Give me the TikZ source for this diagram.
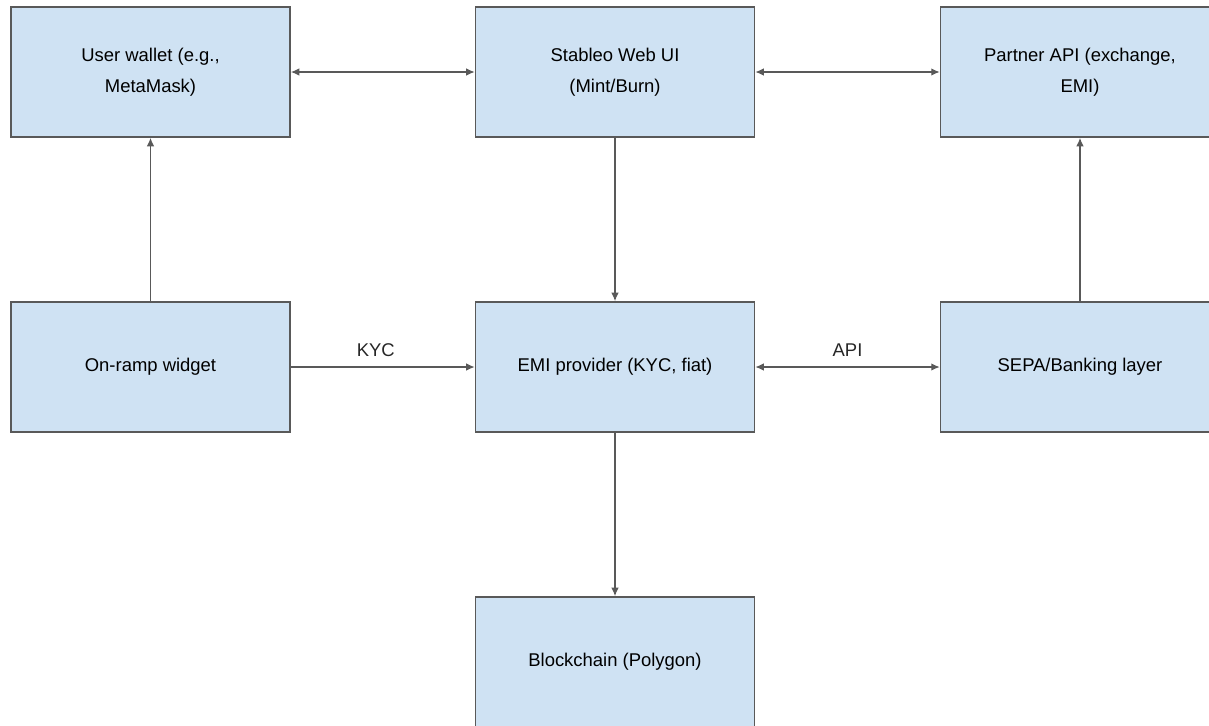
\documentclass[tikz,border=0pt]{standalone}
\usepackage{fontspec}
\setmainfont{Liberation Sans}
\usetikzlibrary{arrows.meta}

\definecolor{boxBlue}{HTML}{CFE2F3}
\definecolor{edgeGray}{HTML}{595959}

\begin{document}
\begin{tikzpicture}[
    x=0.02cm, y=-0.02cm,
    block/.style={draw=edgeGray, line width=0.9pt, fill=boxBlue,
                  minimum width=5.58cm, minimum height=2.6cm,
                  font=\fontsize{10.5}{17.5}\selectfont, align=center,
                  inner sep=4pt},
    arr/.style={-{Latex[length=1.7mm, width=1.5mm]}, line width=0.75pt, edgeGray},
    biarr/.style={{Latex[length=1.7mm, width=1.5mm]}-{Latex[length=1.7mm, width=1.5mm]},
                  line width=0.75pt, edgeGray},
    lbl/.style={font=\fontsize{10.5}{12}\selectfont, text=black!85},
]
\useasboundingbox (0,0) rectangle (1209,725);

% --- top row ---
\node[block] (wallet) at (150.5, 72) {User wallet (e.g.,\\MetaMask)};
\node[block] (webui)  at (615, 72)   {Stableo Web UI\\(Mint/Burn)};
\node[block] (partner) at (1080, 72) {Partner API (exchange,\\EMI)};

% --- middle row ---
\node[block] (onramp) at (150.5, 367) {On-ramp widget};
\node[block] (emi)    at (615, 367)   {EMI provider (KYC, fiat)};
\node[block] (sepa)   at (1080, 367)  {SEPA/Banking layer};

% --- bottom ---
\node[block] (chain) at (615, 662) {Blockchain (Polygon)};

% Connectors
\draw[biarr] (wallet) -- (webui);
\draw[biarr] (webui) -- (partner);
\draw[arr] (onramp) -- (wallet);
\draw[arr] (webui) -- (emi);
\draw[arr] (sepa) -- (partner);
\draw[arr] (emi) -- (chain);

\draw[arr] (onramp) -- node[lbl, above, yshift=2pt, xshift=-4pt] {KYC} (emi);
\draw[biarr] (emi) -- node[lbl, above, yshift=2pt] {API} (sepa);

\end{tikzpicture}
\end{document}
